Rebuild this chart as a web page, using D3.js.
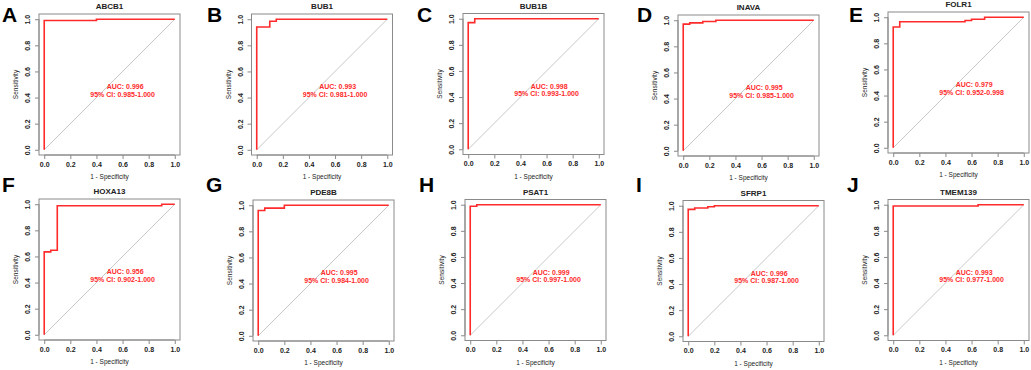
<!DOCTYPE html>
<html>
<head>
<meta charset="utf-8">
<script src="https://cdn.jsdelivr.net/npm/d3@7"></script>
<style>
  body { margin: 0; background: #fff; }
  svg text { font-family: "Liberation Sans", Arial, sans-serif; }
</style>
</head>
<body>
<div id="chart"></div>
<script>
// panel letters and gene names
var letters = ["A", "B", "C", "D", "E", "F", "G", "H", "I", "J"];
var genes = ["ABCB1", "BUB1", "BUB1B", "INAVA", "FOLR1", "HOXA13", "PDE8B", "PSAT1", "SFRP1", "TMEM139"];
var aucText = ["0.996", "0.993", "0.998", "0.995", "0.979", "0.956", "0.995", "0.999", "0.996", "0.993"];
var ciText = ["0.985-1.000", "0.981-1.000", "0.993-1.000", "0.985-1.000", "0.952-0.998",
              "0.902-1.000", "0.984-1.000", "0.997-1.000", "0.987-1.000", "0.977-1.000"];

// ROC step curves, [1 - specificity, sensitivity]
var rocABCB1 = [[0,0],[0,0.99],[0.4,0.99],[0.4,1],[1,1]];
var rocBUB1 = [[0,0],[0,0.94],[0.1,0.94],[0.1,0.985],[0.15,0.985],[0.15,1],[1,1]];
var rocBUB1B = [[0,0],[0,0.97],[0.05,0.97],[0.05,1],[1,1]];
var rocINAVA = [[0,0],[0,0.97],[0.05,0.97],[0.05,0.98],[0.15,0.98],[0.15,0.99],[0.25,0.99],[0.25,1],[1,1]];
var rocFOLR1 = [[0,0],[0,0.925],[0.05,0.925],[0.05,0.965],[0.55,0.965],[0.55,0.975],[0.6,0.975],[0.6,0.985],[0.7,0.985],[0.7,1],[1,1]];
var rocHOXA13 = [[0,0],[0,0.635],[0.05,0.635],[0.05,0.648],[0.1,0.648],[0.1,0.988],[0.9,0.988],[0.9,1],[1,1]];
var rocPDE8B = [[0,0],[0,0.96],[0.05,0.96],[0.05,0.978],[0.2,0.978],[0.2,1],[1,1]];
var rocPSAT1 = [[0,0],[0,0.988],[0.05,0.988],[0.05,1],[1,1]];
var rocSFRP1 = [[0,0],[0,0.972],[0.05,0.972],[0.05,0.982],[0.15,0.982],[0.15,0.992],[0.2,0.992],[0.2,1],[1,1]];
var rocTMEM139 = [[0,0],[0,0.99],[0.65,0.99],[0.65,1],[1,1]];
var curves = [rocABCB1, rocBUB1, rocBUB1B, rocINAVA, rocFOLR1, rocHOXA13, rocPDE8B, rocPSAT1, rocSFRP1, rocTMEM139];

var ticks = [0, 0.2, 0.4, 0.6, 0.8, 1.0];

// layout: plot box top-left and letter x for each panel
var layout = [
  {bx: 39, by: 14, lx: 2},
  {bx: 251.5, by: 14, lx: 207},
  {bx: 463, by: 13.5, lx: 417},
  {bx: 678, by: 15, lx: 637},
  {bx: 888, by: 12, lx: 849},
  {bx: 39, by: 199, lx: 2},
  {bx: 253, by: 200, lx: 206},
  {bx: 465, by: 199.5, lx: 419},
  {bx: 683, by: 200.5, lx: 636},
  {bx: 888, by: 199.5, lx: 847}
];
var boxSize = 141;

var svg = d3.select("#chart").append("svg")
  .attr("width", 1031)
  .attr("height", 370);

letters.forEach(function(letter, i) {
  var L = layout[i];
  var g = svg.append("g").attr("transform", "translate(" + L.bx + "," + L.by + ")");

  var x = d3.scaleLinear().domain([-0.04, 1.04]).range([0, boxSize]);
  var y = d3.scaleLinear().domain([-0.04, 1.04]).range([boxSize, 0]);

  // diagonal reference line
  g.append("line")
    .attr("x1", x(0)).attr("y1", y(0))
    .attr("x2", x(1)).attr("y2", y(1))
    .attr("stroke", "#c8c8c8")
    .attr("stroke-width", 1);

  // roc curve
  g.append("path")
    .datum(curves[i])
    .attr("fill", "none")
    .attr("stroke", "#ff2a2a")
    .attr("stroke-width", 1.6)
    .attr("d", d3.line()
      .x(function(d) { return x(d[0]); })
      .y(function(d) { return y(d[1]); }));

  // box
  g.append("rect")
    .attr("x", 0).attr("y", 0)
    .attr("width", boxSize).attr("height", boxSize)
    .attr("fill", "none")
    .attr("stroke", "#8a8a8a")
    .attr("stroke-width", 1);

  // x axis
  var xa = g.append("g")
    .attr("transform", "translate(0," + boxSize + ")")
    .call(d3.axisBottom(x).tickValues(ticks).tickFormat(d3.format(".1f")).tickSize(4).tickPadding(3));
  xa.select(".domain").attr("stroke", "#8a8a8a").attr("d", "M" + x(0) + ",0H" + x(1));
  xa.selectAll(".tick line").attr("stroke", "#8a8a8a");
  xa.selectAll(".tick text").attr("fill", "#222").style("font-size", "7px").style("font-weight", "bold")
    .style("font-family", "Liberation Sans, Arial, sans-serif");

  // y axis, rotated labels as in base R
  var ya = g.append("g")
    .call(d3.axisLeft(y).tickValues(ticks).tickFormat(d3.format(".1f")).tickSize(4).tickPadding(3));
  ya.select(".domain").attr("stroke", "#8a8a8a").attr("d", "M0," + y(0) + "V" + y(1));
  ya.selectAll(".tick line").attr("stroke", "#8a8a8a");
  ya.selectAll(".tick text")
    .attr("fill", "#222").style("font-size", "7px").style("font-weight", "bold")
    .style("font-family", "Liberation Sans, Arial, sans-serif")
    .attr("x", null).attr("dy", null)
    .attr("text-anchor", "middle")
    .attr("transform", "translate(-9,0) rotate(-90)");

  // axis titles
  g.append("text")
    .attr("x", boxSize / 2).attr("y", boxSize + 24)
    .attr("text-anchor", "middle")
    .style("font-size", "6.5px")
    .attr("fill", "#222")
    .text("1 - Specificity");

  g.append("text")
    .attr("transform", "translate(-21," + (boxSize / 2) + ") rotate(-90)")
    .attr("text-anchor", "middle")
    .style("font-size", "6.5px")
    .attr("fill", "#222")
    .text("Sensitivity");

  // gene title
  g.append("text")
    .attr("x", boxSize / 2).attr("y", -5)
    .attr("text-anchor", "middle")
    .style("font-size", "8px")
    .style("font-weight", "bold")
    .attr("fill", "#222")
    .text(genes[i]);

  // auc text
  g.append("text")
    .attr("x", x(0.62)).attr("y", y(0.465))
    .attr("text-anchor", "middle")
    .style("font-size", "7px")
    .style("font-weight", "bold")
    .attr("fill", "#ff2a2a")
    .text("AUC: " + aucText[i]);
  g.append("text")
    .attr("x", x(0.6)).attr("y", y(0.405))
    .attr("text-anchor", "middle")
    .style("font-size", "7px")
    .style("font-weight", "bold")
    .attr("fill", "#ff2a2a")
    .text("95% CI: " + ciText[i]);

  // panel letter
  svg.append("text")
    .attr("x", L.lx)
    .attr("y", i < 5 ? 22 : 192)
    .style("font-size", "21px")
    .style("font-weight", "bold")
    .attr("fill", "#000")
    .text(letter);
});
</script>
</body>
</html>
